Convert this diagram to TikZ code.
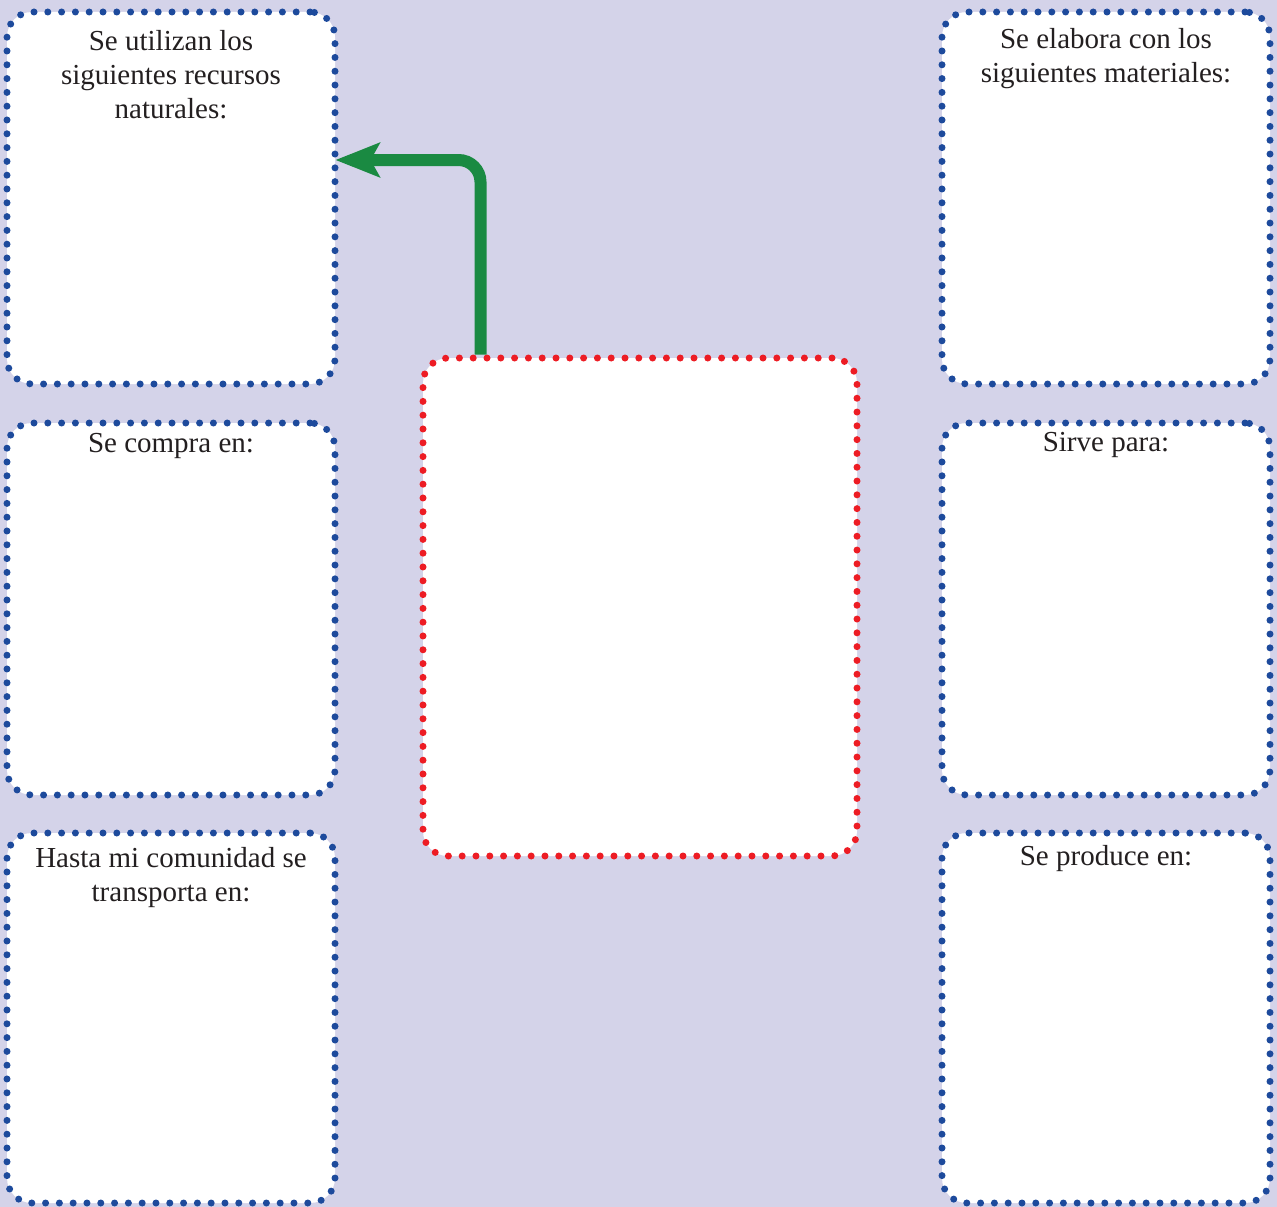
\documentclass[tikz,border=0pt]{standalone}
\usepackage{fontspec}
\setmainfont{Liberation Serif}
\usetikzlibrary{arrows.meta}
\definecolor{bgl}{HTML}{D4D3E9}
\definecolor{dotblue}{HTML}{1D4A9C}
\definecolor{dotred}{HTML}{ED1C24}
\definecolor{arrgreen}{HTML}{1A8A42}
\definecolor{txt}{HTML}{231F20}
\tikzset{
  dotbox/.style={draw=dotblue, fill=white, line width=7pt, line cap=round,
    dash pattern=on 0pt off 13.8pt, rounded corners=25pt,
    minimum width=328pt, minimum height=372pt, inner sep=0pt},
  redbox/.style={dotbox, draw=dotred, minimum width=434pt, minimum height=498pt},
  boxtext/.style={anchor=north, inner sep=0pt, align=center, text=txt,
    font=\fontsize{29pt}{34pt}\selectfont},
  greenarrow/.style={draw=arrgreen, line width=12pt, rounded corners=22pt,
    -{Stealth[length=44pt, width=34pt, inset=9pt]}}
}
\begin{document}
\begin{tikzpicture}[x=1pt,y=-1pt]
\useasboundingbox (0,0) rectangle (1277,1207);
\fill[bgl] (0,0) rectangle (1277,1207);
% left column
\node[dotbox] (l1) at (171,198) {};
\node[dotbox] (l2) at (171,609) {};
\node[dotbox, minimum height=370pt] (l3) at (171,1018) {};
% right column
\node[dotbox] (r1) at (1106,198) {};
\node[dotbox] (r2) at (1106,609) {};
\node[dotbox, minimum height=370pt] (r3) at (1106,1018) {};
% centre
\node[redbox] (c) at (640,607) {};
% texts
\node[boxtext] (t1) at (171,30) {Se utilizan los\\siguientes recursos\\naturales:};
\node[boxtext] (t2) at (171,433) {Se compra en:};
\node[boxtext] (t3) at (171,847) {Hasta mi comunidad se\\transporta en:};
\node[boxtext] (t4) at (1106,28) {Se elabora con los\\siguientes materiales:};
\node[boxtext] (t5) at (1106,432) {Sirve para:};
\node[boxtext] (t6) at (1106,845) {Se produce en:};
% arrow
\draw[greenarrow] ([xshift=61pt]c.north west) |- ([yshift=38pt,xshift=-3pt]l1.east);
\end{tikzpicture}
\end{document}
